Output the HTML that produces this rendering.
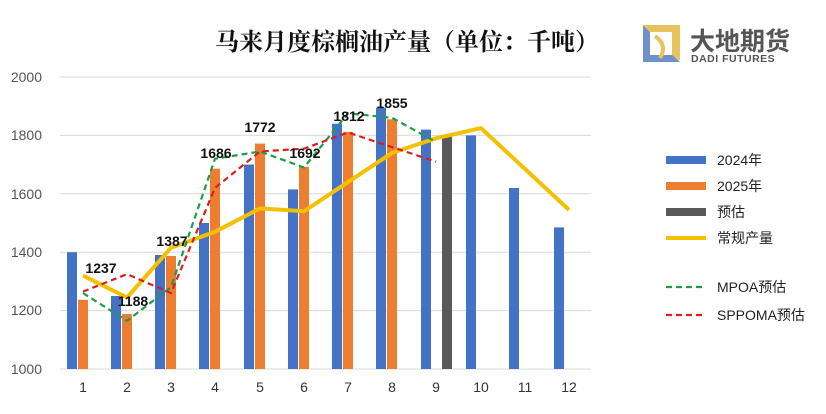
<!DOCTYPE html>
<html><head><meta charset="utf-8"><style>
body{margin:0;background:#fff;}
svg{display:block;font-family:"Liberation Sans","Noto Sans CJK SC",sans-serif;}
</style></head><body>
<svg width="826" height="414" viewBox="0 0 826 414" xmlns="http://www.w3.org/2000/svg">
<rect width="826" height="414" fill="#fff"/>
<text x="407" y="50" text-anchor="middle" font-size="24" font-weight="bold" font-family="'Noto Serif CJK SC','Noto Sans CJK SC',serif" fill="#111">马来月度棕榈油产量（单位：千吨）</text>
<g>
<path d="M643 25 L680 25 L680 60 L672 60 L672 32 L650 32 Z" fill="#e6c35c"/>
<path d="M643 25 L650 32 L650 55 L672 55 L680 62 L643 62 Z" fill="#6f90c8"/>
<path d="M655 36 Q668 45 660 58" stroke="#e6c35c" stroke-width="4" fill="none"/>
<text x="690" y="50" font-size="25" font-weight="bold" fill="#555">大地期货</text>
<text x="691" y="62" font-size="10.5" font-weight="bold" fill="#555" letter-spacing="0.5">DADI FUTURES</text>
</g>
<g stroke="#d9d9d9" stroke-width="1">
<line x1="60" x2="591" y1="77" y2="77"/><line x1="60" x2="591" y1="135.4" y2="135.4"/>
<line x1="60" x2="591" y1="193.8" y2="193.8"/><line x1="60" x2="591" y1="252.2" y2="252.2"/>
<line x1="60" x2="591" y1="310.6" y2="310.6"/><line x1="60" x2="591" y1="369" y2="369"/>
</g>
<g font-size="14" fill="#555" text-anchor="end">
<text x="42" y="82">2000</text><text x="42" y="140">1800</text><text x="42" y="199">1600</text>
<text x="42" y="257">1400</text><text x="42" y="315">1200</text><text x="42" y="374">1000</text>
</g>
<g font-size="14" fill="#333" text-anchor="middle">
<text x="83" y="392">1</text><text x="127" y="392">2</text><text x="171" y="392">3</text><text x="215" y="392">4</text><text x="260" y="392">5</text><text x="304" y="392">6</text><text x="348" y="392">7</text><text x="392" y="392">8</text><text x="436" y="392">9</text><text x="481" y="392">10</text><text x="525" y="392">11</text><text x="569" y="392">12</text>
</g>
<g fill="#4472c4">
<rect x="67" y="252.2" width="10" height="116.8"/>
<rect x="111" y="296" width="10" height="73"/>
<rect x="155" y="255" width="10" height="114"/>
<rect x="199" y="223" width="10" height="146"/>
<rect x="244" y="164.6" width="10" height="204.4"/>
<rect x="288" y="189.4" width="10" height="179.6"/>
<rect x="332" y="123.7" width="10" height="245.3"/>
<rect x="376" y="107.7" width="10" height="261.3"/>
<rect x="421" y="129.6" width="10" height="239.4"/>
<rect x="466" y="135.4" width="10" height="233.6"/>
<rect x="509" y="188" width="10" height="181"/>
<rect x="554" y="227.4" width="10" height="141.6"/>
</g>
<g fill="#ed7d31">
<rect x="78" y="299.8" width="10" height="69.2"/>
<rect x="122" y="314.1" width="10" height="54.9"/>
<rect x="166" y="256" width="10" height="113"/>
<rect x="210" y="168.7" width="10" height="200.3"/>
<rect x="255" y="143.6" width="10" height="225.4"/>
<rect x="299" y="166.9" width="10" height="202.1"/>
<rect x="343" y="131.9" width="10" height="237.1"/>
<rect x="387" y="119.3" width="10" height="249.7"/>
</g>
<rect x="442" y="135.4" width="10" height="233.6" fill="#595959"/>
<polyline fill="none" stroke="#f5c000" stroke-width="4" stroke-linejoin="round" points="83,275.6 127,297.5 171,247.8 215,231.8 260,208.4 304,211.3 348,182.1 392,152.9 436,138.3 481,128.1 525,169 569,209.9"/>
<polyline fill="none" stroke="#1f9b4a" stroke-width="2.2" stroke-dasharray="6,4" points="83,293.1 127,320.8 171,287.2 215,158.8 260,151.5 304,167.5 348,113.3 392,117.8 436,142"/>
<polyline fill="none" stroke="#d62020" stroke-width="2.2" stroke-dasharray="6,4" points="83,291.6 127,274.1 171,293.1 215,187.9 260,151.5 304,148.6 348,132.5 392,147.1 436,161.7"/>
<g font-size="14" font-weight="bold" fill="#111" text-anchor="middle">
<text x="101" y="273">1237</text><text x="133" y="306">1188</text><text x="172" y="246">1387</text>
<text x="216" y="158">1686</text><text x="260" y="132">1772</text><text x="305" y="158">1692</text>
<text x="349" y="121">1812</text><text x="392" y="108">1855</text>
</g>
<g font-size="14" fill="#222">
<rect x="666" y="156" width="40" height="8" fill="#4472c4"/><text x="717" y="165">2024年</text>
<rect x="666" y="182" width="40" height="8" fill="#ed7d31"/><text x="717" y="191">2025年</text>
<rect x="666" y="208" width="40" height="8" fill="#595959"/><text x="717" y="217">预估</text>
<line x1="666" x2="706" y1="238" y2="238" stroke="#f5c000" stroke-width="4"/><text x="717" y="243">常规产量</text>
<line x1="666" x2="706" y1="287" y2="287" stroke="#1f9b4a" stroke-width="2.2" stroke-dasharray="6,4"/><text x="717" y="292">MPOA预估</text>
<line x1="666" x2="706" y1="315" y2="315" stroke="#d62020" stroke-width="2.2" stroke-dasharray="6,4"/><text x="717" y="320">SPPOMA预估</text>
</g>
</svg>
</body></html>
